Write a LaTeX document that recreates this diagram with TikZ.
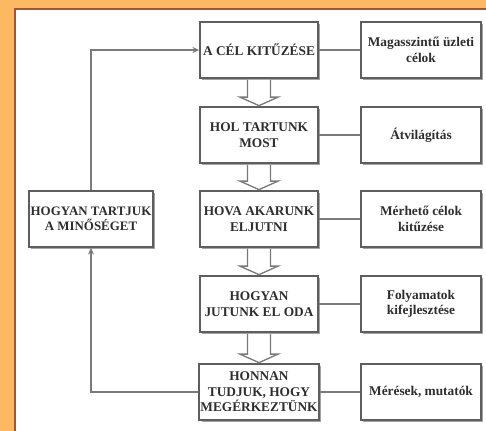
\documentclass[tikz,border=0pt]{standalone}
\usepackage{fontspec}
\setmainfont{Liberation Serif}
\usetikzlibrary{calc,shadows,arrows.meta}
\definecolor{bgorange}{HTML}{FDB962}
\definecolor{panelborder}{HTML}{A5533F}
\definecolor{boxborder}{HTML}{5E5E5E}
\definecolor{lineg}{HTML}{7A7A7A}
\tikzset{
  box/.style={draw=boxborder, line width=1.3pt, fill=white, align=center,
    inner sep=1pt, font=\bfseries\fontsize{10}{11.6}\selectfont, text=black!82,
    drop shadow={shadow xshift=1.8pt, shadow yshift=-1.8pt, fill=black!45, opacity=0.8}},
  mainbox/.style={box, minimum width=88.5pt, minimum height=42pt},
  sidebox/.style={box, minimum width=90pt, minimum height=42pt},
  leftbox/.style={box, minimum width=93pt, minimum height=42pt, font=\bfseries\fontsize{9.7}{11.6}\selectfont},
  link/.style={draw=lineg, line width=1.1pt},
  flow/.style={link, -{Stealth[length=5pt,width=4.5pt]}},
  hollow/.style={draw=lineg, line width=1pt, fill=white, line join=miter}
}
\begin{document}
\begin{tikzpicture}[x=0.75pt,y=-0.75pt]
\useasboundingbox (0,0) rectangle (486,431);
\fill[bgorange] (0,0) rectangle (486,431);
\fill[white] (15,9) rectangle (486,431);
\draw[panelborder, line width=1pt] (15,431) -- (15,9) -- (486,9);

\node[mainbox] (c1) at (259,50) {A CÉL KITŰZÉSE};
\node[mainbox] (c2) at (259,135) {HOL TARTUNK\\MOST};
\node[mainbox] (c3) at (259,219) {HOVA AKARUNK\\ELJUTNI};
\node[mainbox] (c4) at (259,304) {HOGYAN\\JUTUNK EL ODA};
\node[mainbox] (c5) at (259,392) {HONNAN\\TUDJUK, HOGY\\MEGÉRKEZTÜNK};

\node[sidebox] (r1) at (421,50) {Magasszintű üzleti\\célok};
\node[sidebox] (r2) at (421,135) {Átvilágítás};
\node[sidebox] (r3) at (421,219) {Mérhető célok\\kitűzése};
\node[sidebox] (r4) at (421,304) {Folyamatok\\kifejlesztése};
\node[sidebox] (r5) at (421,392) {Mérések, mutatók};

\node[leftbox] (l) at (91,219) {HOGYAN TARTJUK\\A MINŐSÉGET};

\foreach \i in {1,...,5}{\draw[link] (c\i.east) -- (r\i.west);}

\foreach \a/\b in {c1/c2,c2/c3,c3/c4,c4/c5}{
  \draw[hollow]
    ($(\a.south)+(-11.5,1)$) -- ($(\b.north)+(-11.5,-9)$) -- ($(\b.north)+(-19,-9)$)
    -- ($(\b.north)+(0,-0.5)$) -- ($(\b.north)+(19,-9)$) -- ($(\b.north)+(11.5,-9)$)
    -- ($(\a.south)+(11.5,1)$);
}

\coordinate (tl) at (l.north |- c1.west);
\coordinate (bl) at (l.south |- c5.west);
\draw[flow] (l.north) -- (tl) -- (c1.west);
\draw[flow] (c5.west) -- (bl) -- (l.south);
\end{tikzpicture}
\end{document}
